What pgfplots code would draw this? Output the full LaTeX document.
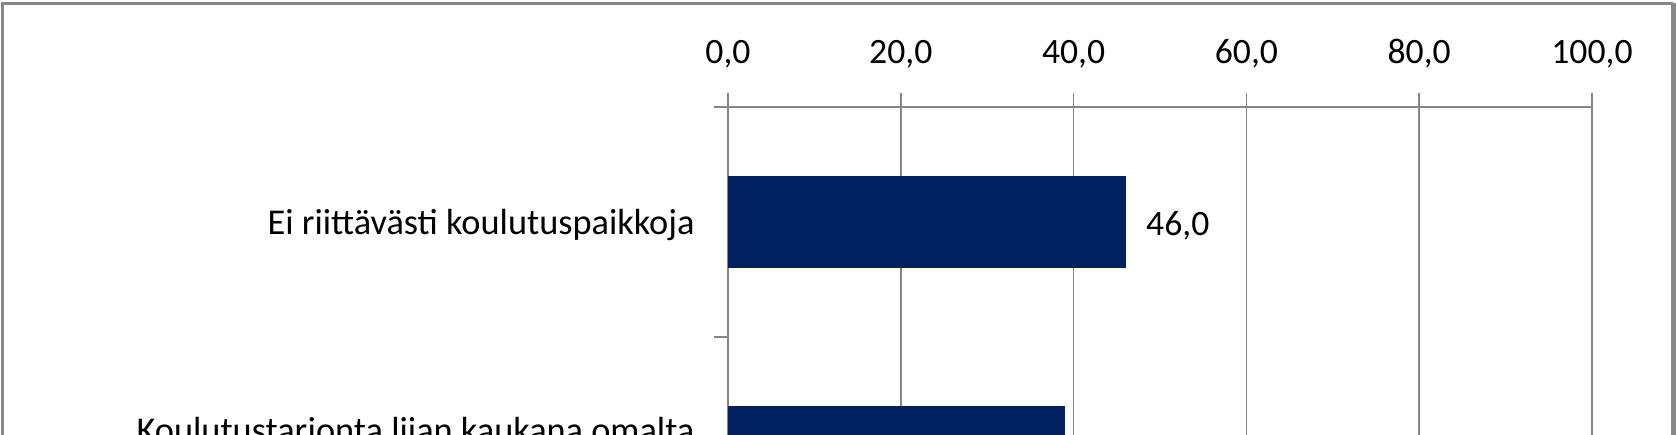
\documentclass[border=0pt]{standalone}
\usepackage{pgfplots}
\pgfplotsset{compat=1.18}
\usepackage{fontspec}
\setmainfont{Carlito}
\definecolor{barblue}{RGB}{0,32,96}
\definecolor{gridgray}{RGB}{134,134,134}
\definecolor{framegray}{RGB}{136,136,136}
\begin{document}
\begin{tikzpicture}
\clip (0,0) rectangle (502.8pt,-130.5pt);
\fill[white] (0,0) rectangle (502.8pt,-130.5pt);
\begin{axis}[
  at={(218.4pt,-32.1pt)}, anchor=north west,
  scale only axis, width=259.2pt, height=138pt,
  xbar, bar width=27pt,
  xmin=0, xmax=100, ymin=-1.5, ymax=0.5,
  axis x line*=top, axis y line*=left,
  axis line style={draw=gridgray, line width=0.45pt, -},
  xtick={0,20,40,60,80,100},
  xmajorgrids, major grid style={draw=gridgray, line width=0.45pt},
  tick align=outside, major tick length=4.2pt,
  xtick style={draw=gridgray, line width=0.45pt},
  ytick={0.5,-0.5,-1.5}, yticklabels={},
  ytick style={draw=gridgray, line width=0.45pt},
  extra y ticks={0,-1},
  extra y tick labels={Ei riittävästi koulutuspaikkoja, {Koulutustarjonta liian kaukana omalta\\asuinpaikkakunnalta}},
  extra y tick style={major tick length=0pt, tick style={draw=none}, yticklabel style={align=right, xshift=-6.5pt, yshift=-1pt, font=\fontsize{10.9}{13.5}\selectfont}},
  ticklabel style={font=\fontsize{10.7}{13}\selectfont, text=black},
  xticklabel style={yshift=3.9pt},
  /pgf/number format/use comma,
  /pgf/number format/fixed,
  /pgf/number format/fixed zerofill,
  /pgf/number format/precision=1,
  /pgf/number format/assume math mode=true,
  nodes near coords,
  nodes near coords align={horizontal},
  every node near coord/.append style={font=\fontsize{10.7}{13}\selectfont, text=black, xshift=2.7pt, yshift=-1pt},
  clip=true,
]
\addplot[fill=barblue, draw=barblue] coordinates {(46.0,0) (38.9,-1)};
\end{axis}
\draw[framegray, line width=0.9pt] (0.75pt,-140pt) -- (0.75pt,-1.05pt) -- (502pt,-1.05pt);
\draw[framegray, line width=1.5pt] (502pt,-1.05pt) -- (502pt,-140pt);
\end{tikzpicture}
\end{document}
